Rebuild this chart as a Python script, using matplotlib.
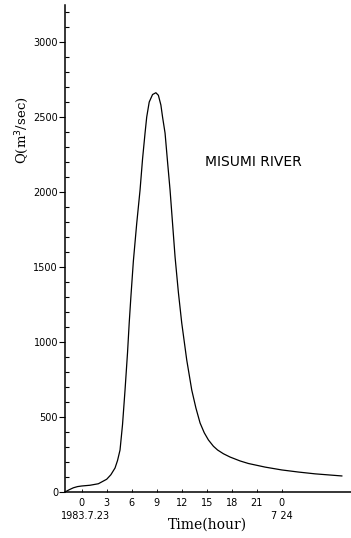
import numpy as np
import matplotlib.pyplot as plt

# hydrograph
hours = [-2, -1.5, -1, -0.5, 0, 1, 2, 3, 3.5, 4.0, 4.3, 4.6, 4.9, 5.2, 5.5, 5.7, 5.9, 6.2, 6.6,
         7.0, 7.3, 7.6, 7.8, 8.1, 8.5, 8.9, 9.2, 9.5, 9.7, 10.0, 10.3, 10.6, 10.9, 11.2, 11.6,
         12.0, 12.6, 13.2, 13.7, 14.2, 14.7, 15.2, 15.8, 16.3, 17.0, 17.8, 19, 20, 22, 24, 26,
         28, 31.2]
flow = [0, 15, 28, 36, 40, 45, 55, 85, 115, 160, 210, 280, 450, 680, 930, 1127, 1300, 1540, 1790,
        2013, 2220, 2393, 2500, 2600, 2650, 2662, 2645, 2580, 2500, 2393, 2200, 2013, 1790, 1567, 1330,
        1127, 880, 680, 560, 460, 395, 347, 305, 280, 255, 233, 207, 190, 166, 147, 133,
        121, 107]

tick_hours = [0, 3, 6, 9, 12, 15, 18, 21, 24]
tick_labels = ["0", "3", "6", "9", "12", "15", "18", "21", "0"]
y_major = [0, 500, 1000, 1500, 2000, 2500, 3000]

fig = plt.figure(figsize=(3.51, 5.38), dpi=100)
ax = fig.add_axes([65 / 351, 46 / 538, 1 - 65 / 351, 487 / 538])

ax.plot(hours, flow, color='black', lw=0.9)

ax.set_xlim(-2, 32.3)
ax.set_ylim(0, 3247)
ax.spines['top'].set_visible(False)
ax.spines['right'].set_visible(False)
ax.spines['left'].set_linewidth(1.1)
ax.spines['bottom'].set_linewidth(1.1)

ax.set_yticks(y_major)
ax.set_yticklabels([str(v) for v in y_major], fontsize=7)
ax.set_yticks(np.arange(0, 3201, 100), minor=True)
ax.tick_params(axis='y', which='major', direction='out', length=4, width=0.8, pad=1)
ax.tick_params(axis='y', which='minor', direction='in', length=3, width=0.8)

ax.set_xticks(tick_hours)
ax.set_xticklabels(tick_labels, fontsize=7)
ax.tick_params(axis='x', which='major', direction='in', length=2, width=0.6, pad=4)

ax.text(0.5, -0.038, "1983.7.23", transform=ax.get_xaxis_transform(), ha='center', va='top', fontsize=7)
ax.text(24, -0.038, "7 24", transform=ax.get_xaxis_transform(), ha='center', va='top', fontsize=7)

fig.text(207 / 351, 1 - 525 / 538, "Time(hour)", ha='center', va='center', fontsize=10, family='DejaVu Serif')
fig.text(22 / 351, 1 - 130 / 538, "Q(m$^3$/sec)", ha='center', va='center', rotation=90, fontsize=9.5,
         family='DejaVu Serif')

ax.text(20.6, 2200, "MISUMI RIVER", ha='center', va='center', fontsize=10)

fig.savefig("out.png", dpi=100)
